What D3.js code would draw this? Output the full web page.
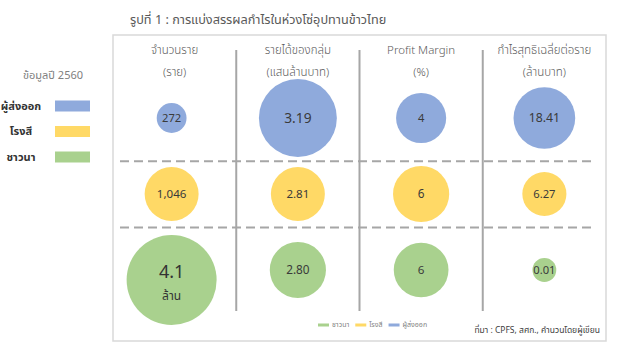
<!DOCTYPE html>
<html>
<head>
<meta charset="utf-8">
<script src="https://cdn.jsdelivr.net/npm/d3@7"></script>
<style>
  body { margin: 0; background: #fff; }
  svg { display: block; font-family: "Noto Sans Thai", "Tahoma", "Noto Sans", sans-serif; }
</style>
</head>
<body>
<script>
// DATA
const metrics = ["จำนวนราย", "รายได้ของกลุ่ม", "Profit Margin", "กำไรสุทธิเฉลี่ยต่อราย"];
const units = ["(ราย)", "(แสนล้านบาท)", "(%)", "(ล้านบาท)"];
const groups = ["ผู้ส่งออก", "โรงสี", "ชาวนา"];
const exporterValues = [272, 3.19, 4, 18.41];
const millerValues = [1046, 2.81, 6, 6.27];
const farmerValues = [4100000, 2.80, 6, 0.01];
// relative bubble weight (area) as drawn in the picture
const exporterWeight = [11, 75, 31, 47];
const millerWeight = [36, 36, 39, 24];
const farmerWeight = [100, 39, 37, 7];
const legendYear = "ข้อมูลปี 2560";
const title = "รูปที่ 1 : การแบ่งสรรผลกำไรในห่วงโซ่อุปทานข้าวไทย";
const source = "ที่มา : CPFS, สศก., คำนวนโดยผู้เขียน";

const colors = { "ผู้ส่งออก": "#8faadc", "โรงสี": "#ffd966", "ชาวนา": "#a9d18e" };
const formats = [d3.format(","), d3.format(".2f"), d3.format("d"), d3.format(".2f")];

const rows = [
  { group: groups[0], values: exporterValues, weight: exporterWeight },
  { group: groups[1], values: millerValues, weight: millerWeight },
  { group: groups[2], values: farmerValues, weight: farmerWeight }
];

const W = 622, H = 352;
const box = { x: 113, y: 35, w: 493, h: 306 };

const svg = d3.select("body").append("svg").attr("width", W).attr("height", H);
svg.append("rect").attr("width", W).attr("height", H).attr("fill", "#fff");

// TITLE
svg.append("text").attr("x", 130).attr("y", 24)
  .attr("font-size", 12.7).attr("fill", "#595959").text(title);

// BOX
svg.append("rect")
  .attr("x", box.x).attr("y", box.y).attr("width", box.w).attr("height", box.h)
  .attr("fill", "none").attr("stroke", "#d9d9d9").attr("stroke-width", 1.5);

// SCALES
const X = d3.scaleBand().domain(metrics).range([box.x, box.x + box.w]);
const Y = d3.scalePoint().domain(groups).range([118, 270]);
const R = d3.scaleSqrt().domain([0, 100]).range([0, 45]);
const fontS = d3.scaleLinear().domain([25, 40]).range([11.2, 14]).clamp(true);

// VERTICAL SEPARATORS
svg.selectAll(".vsep").data(metrics.slice(1)).enter().append("line").classed("vsep", true)
  .attr("x1", d => X(d)).attr("x2", d => X(d))
  .attr("y1", 50).attr("y2", 311)
  .attr("stroke", "#a6a6a6").attr("stroke-width", 2);

// DASHED ROW LINES
const step = Y.step();
const dashY = [Y(groups[0]) + step * 0.57, Y(groups[2]) - step * 0.56];
svg.selectAll(".dash").data(dashY).enter().append("line").classed("dash", true)
  .attr("x1", 120).attr("x2", 593)
  .attr("y1", d => d).attr("y2", d => d)
  .attr("stroke", "#a6a6a6").attr("stroke-width", 2)
  .attr("stroke-dasharray", "9,5");

// HEADERS
const head = svg.selectAll(".head").data(metrics).enter().append("g").classed("head", true)
  .attr("transform", d => `translate(${X(d) + X.bandwidth() / 2}, 0)`);
head.append("text").attr("y", 54).attr("text-anchor", "middle")
  .attr("font-size", 11.5).attr("font-weight", 300).attr("fill", "#595959").text(d => d);
head.append("text").attr("y", 76).attr("text-anchor", "middle")
  .attr("font-size", 11.5).attr("font-weight", 300).attr("fill", "#595959").text((d, i) => units[i]);

// BUBBLES
const cells = [];
rows.forEach(r => r.values.forEach((v, i) => cells.push({
  group: r.group, metric: metrics[i], col: i, value: v, w: r.weight[i]
})));

const cell = svg.selectAll(".cell").data(cells).enter().append("g").classed("cell", true)
  .attr("transform", d => {
    const r = R(d.w);
    const cx = X(d.metric) + X.bandwidth() / 2 - (d.col == 0 ? 3 : 0);
    const cy = Y(d.group) + (r > 40 ? 10 : 0);
    return `translate(${cx}, ${cy})`;
  });

cell.append("circle").attr("r", d => R(d.w)).attr("fill", d => colors[d.group]);

cell.each(function (d) {
  const g = d3.select(this);
  if (d.value >= 1e6) {
    g.append("text").attr("y", -2).attr("text-anchor", "middle")
      .attr("font-size", 18).attr("fill", "#333").text(d.value / 1e6);
    g.append("text").attr("y", 20).attr("text-anchor", "middle")
      .attr("font-size", 12).attr("fill", "#333").text("ล้าน");
  } else {
    g.append("text").attr("text-anchor", "middle").attr("dy", "0.35em")
      .attr("font-size", fontS(R(d.w))).attr("fill", "#3a3a3a")
      .text(formats[d.col](d.value));
  }
});

// LEFT LEGEND
svg.append("text").attr("x", 53).attr("y", 79).attr("text-anchor", "middle")
  .attr("font-size", 11).attr("fill", "#808080").text(legendYear);
const lg = svg.selectAll(".lg").data(groups).enter().append("g").classed("lg", true)
  .attr("transform", (d, i) => `translate(0, ${106 + i * 25.5})`);
lg.append("text").attr("x", 21).attr("dy", "0.35em").attr("text-anchor", "middle")
  .attr("font-size", 11).attr("font-weight", "bold").attr("fill", "#333").text(d => d);
lg.append("rect").attr("x", 55).attr("y", -5.5).attr("width", 35).attr("height", 11)
  .attr("fill", d => colors[d]);

// BOTTOM LEGEND
const bl = svg.append("g").attr("transform", "translate(318, 325)");
let bx = 0;
groups.slice().reverse().forEach(g => {
  bl.append("rect").attr("x", bx).attr("y", -1.5).attr("width", 11).attr("height", 3)
    .attr("fill", colors[g]);
  const t = bl.append("text").attr("x", bx + 14).attr("dy", "0.35em")
    .attr("font-size", 7).attr("fill", "#7f7f7f").text(g);
  bx += 14 + t.node().getComputedTextLength() + 6;
});

// SOURCE
svg.append("text").attr("x", 600).attr("y", 333).attr("text-anchor", "end")
  .attr("font-size", 8.5).attr("fill", "#404040").text(source);
</script>
</body>
</html>
